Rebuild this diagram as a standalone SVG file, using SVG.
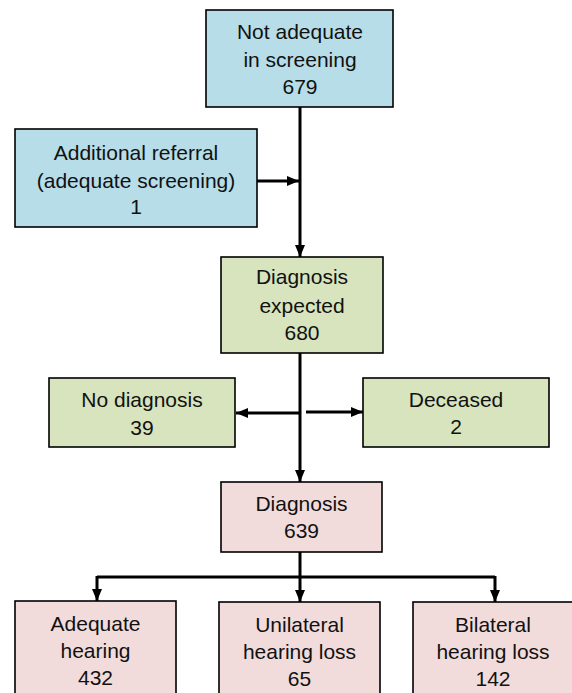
<svg xmlns="http://www.w3.org/2000/svg" width="572" height="693" viewBox="0 0 572 693">
<style>
.box{stroke:#000;stroke-width:1.6}
.blue{fill:#b7dde8}
.green{fill:#d7e4bd}
.pink{fill:#f2dcdb}
text{font-family:"Liberation Sans",Arial,sans-serif;font-size:21px;fill:#111;text-anchor:middle}
.conn{stroke:#000;stroke-width:3;fill:none}
</style>
<defs>
<marker id="ah" markerUnits="userSpaceOnUse" markerWidth="13" markerHeight="13" viewBox="0 0 13 13" refX="12" refY="6.5" orient="auto">
<path d="M0,1.5 L12,6.5 L0,11.5 Z" fill="#000"/>
</marker>
</defs>
<g id="connectors">
<line class="conn" x1="300" y1="107" x2="300" y2="257" marker-end="url(#ah)"/>
<line class="conn" x1="257" y1="181" x2="299" y2="181" marker-end="url(#ah)"/>
<line class="conn" x1="300" y1="353" x2="300" y2="482" marker-end="url(#ah)"/>
<line class="conn" x1="300" y1="413" x2="236" y2="413" marker-end="url(#ah)"/>
<line class="conn" x1="306" y1="412" x2="363" y2="412" marker-end="url(#ah)"/>
<line class="conn" x1="300" y1="552" x2="300" y2="577"/>
<line class="conn" x1="97" y1="577" x2="495" y2="577"/>
<line class="conn" x1="97" y1="576" x2="97" y2="601" marker-end="url(#ah)"/>
<line class="conn" x1="300" y1="576" x2="300" y2="602" marker-end="url(#ah)"/>
<line class="conn" x1="495" y1="576" x2="495" y2="602" marker-end="url(#ah)"/>
</g>
<g id="not-adequate">
<rect class="box blue" x="206" y="10" width="187" height="97"/>
<text x="300" y="39">Not adequate</text>
<text x="300" y="67">in screening</text>
<text x="300" y="94">679</text>
</g>
<g id="additional-referral">
<rect class="box blue" x="15" y="129" width="242" height="98"/>
<text x="136" y="160">Additional referral</text>
<text x="136" y="188">(adequate screening)</text>
<text x="136" y="214">1</text>
</g>
<g id="diagnosis-expected">
<rect class="box green" x="221" y="257" width="162" height="96"/>
<text x="302" y="284">Diagnosis</text>
<text x="302" y="313">expected</text>
<text x="302" y="340">680</text>
</g>
<g id="no-diagnosis">
<rect class="box green" x="49" y="378" width="186" height="69"/>
<text x="142" y="407">No diagnosis</text>
<text x="142" y="435">39</text>
</g>
<g id="deceased">
<rect class="box green" x="363" y="378" width="186" height="69"/>
<text x="456" y="407">Deceased</text>
<text x="456" y="434">2</text>
</g>
<g id="diagnosis">
<rect class="box pink" x="221" y="482" width="161" height="70"/>
<text x="301.5" y="511">Diagnosis</text>
<text x="301.5" y="538">639</text>
</g>
<g id="adequate-hearing">
<rect class="box pink" x="15" y="601" width="161" height="100"/>
<text x="95.5" y="631">Adequate</text>
<text x="95.5" y="658">hearing</text>
<text x="95.5" y="685">432</text>
</g>
<g id="unilateral">
<rect class="box pink" x="219" y="602" width="161" height="100"/>
<text x="299.5" y="632">Unilateral</text>
<text x="299.5" y="659">hearing loss</text>
<text x="299.5" y="686">65</text>
</g>
<g id="bilateral">
<rect class="box pink" x="413" y="602" width="160" height="100"/>
<text x="493" y="632">Bilateral</text>
<text x="493" y="659">hearing loss</text>
<text x="493" y="686">142</text>
</g>
</svg>
